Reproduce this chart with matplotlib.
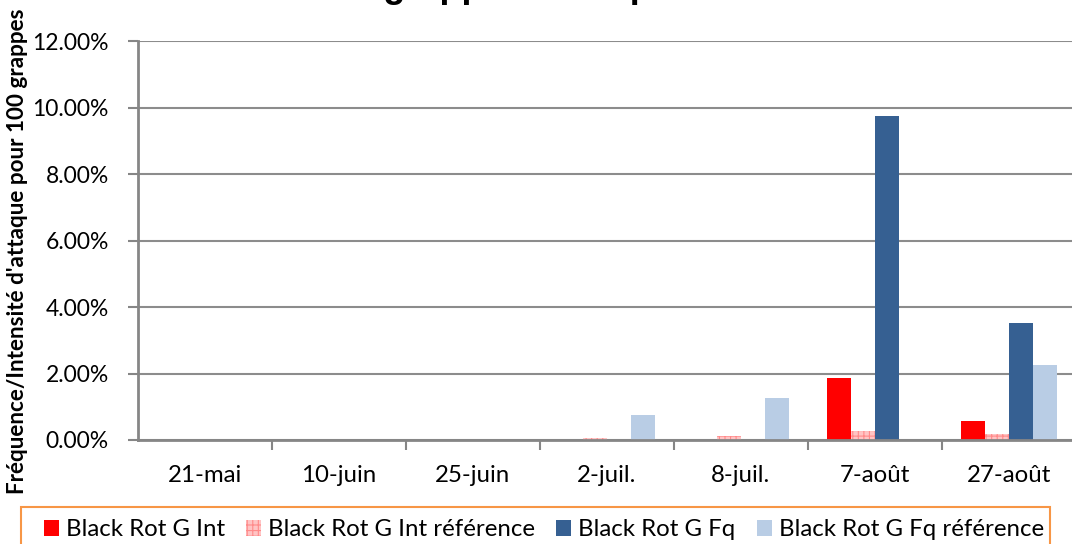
import matplotlib.pyplot as plt
import numpy as np
from matplotlib.patches import Patch, Rectangle
from matplotlib.ticker import PercentFormatter

# Black rot on bunches: frequency / intensity per sampling date
dates = ["21-mai", "10-juin", "25-juin", "2-juil.", "8-juil.", "7-août", "27-août"]
g_int = [0, 0, 0, 0, 0, 1.86, 0.57]
g_int_ref = [0, 0, 0, 0.06, 0.11, 0.27, 0.18]
g_fq = [0, 0, 0, 0, 0, 9.74, 3.52]
g_fq_ref = [0, 0, 0, 0.76, 1.26, 0, 2.26]

series_names = ["Black Rot G Int", "Black Rot G Int référence",
                "Black Rot G Fq", "Black Rot G Fq référence"]

plt.rcParams["font.family"] = ["Lato", "DejaVu Sans"]
plt.rcParams["hatch.linewidth"] = 0.8

W, H = 1072, 544
fig = plt.figure(figsize=(W / 100, H / 100), dpi=100)
ax = fig.add_axes([138 / W, 1 - 440 / H, 938 / W, 399 / H])

x = np.arange(len(dates))
bw = 0.179
ax.bar(x - 1.5 * bw, g_int, bw, color="#FF0000", zorder=3)
ax.bar(x - 0.5 * bw, g_int_ref, bw, facecolor="#FFC4C4", edgecolor="#FF8A8A",
       hatch="+++", linewidth=0, zorder=3)
ax.bar(x + 0.5 * bw, g_fq, bw, color="#366092", zorder=3)
ax.bar(x + 1.5 * bw, g_fq_ref, bw, color="#B9CDE5", zorder=3)

ax.set_xlim(-0.5, len(dates) - 0.5)
ax.set_ylim(0, 12)
ax.set_yticks(np.arange(0, 12.1, 2))
ax.yaxis.set_major_formatter(PercentFormatter(decimals=2))
ax.set_xticks(x)
ax.set_xticklabels(dates)
ax.set_xticks(np.arange(0.5, len(dates) - 0.5), minor=True)

ax.grid(axis="y", color="#8C8C8C", linewidth=1.5, zorder=0)
for side in ["top", "right"]:
    ax.spines[side].set_visible(False)
for side in ["left", "bottom"]:
    ax.spines[side].set_color("#868686")
    ax.spines[side].set_linewidth(2)
    ax.spines[side].set_zorder(4)

ax.tick_params(axis="y", which="major", length=7, width=1.5, color="#868686",
               labelsize=16.5, pad=14)
ax.tick_params(axis="x", which="major", length=0, labelsize=17.3, pad=18)
ax.tick_params(axis="x", which="minor", length=7, width=1.5, color="#868686")

fig.text(18 / W, 1 - 251 / H, "Fréquence/Intensité d'attaque pour 100 grappes",
         rotation=90, ha="center", va="center", fontsize=16.2, fontweight="bold")

# chart title sits above the top edge, only its descenders show
fig.text(207 / W, 1 + 3 / H, "Black Rot grappes - comparaison",
         family="Liberation Sans", fontsize=26, fontweight="bold",
         ha="left", va="baseline")

# legend: orange frame drawn separately, entries spread across it
fig.patches.append(Rectangle((21 / W, -10 / H), 1029 / W, (10 + 37) / H,
                             transform=fig.transFigure, fill=False,
                             edgecolor="#F79646", linewidth=1.5))
handles = [
    Patch(facecolor="#FF0000", linewidth=0),
    Patch(facecolor="#FFC4C4", edgecolor="#FF8A8A", hatch="+++", linewidth=0),
    Patch(facecolor="#366092", linewidth=0),
    Patch(facecolor="#B9CDE5", linewidth=0),
]
fig.legend(handles, series_names, loc="center left", ncol=4,
           bbox_to_anchor=(44 / W, 1 - 530 / H, 1000 / W, 0),
           mode="expand", fontsize=17.3, frameon=False,
           handlelength=0.62, handleheight=0.62, handletextpad=0.3,
           columnspacing=1.0, borderaxespad=0, borderpad=0)

fig.savefig("out.png", dpi=100)
